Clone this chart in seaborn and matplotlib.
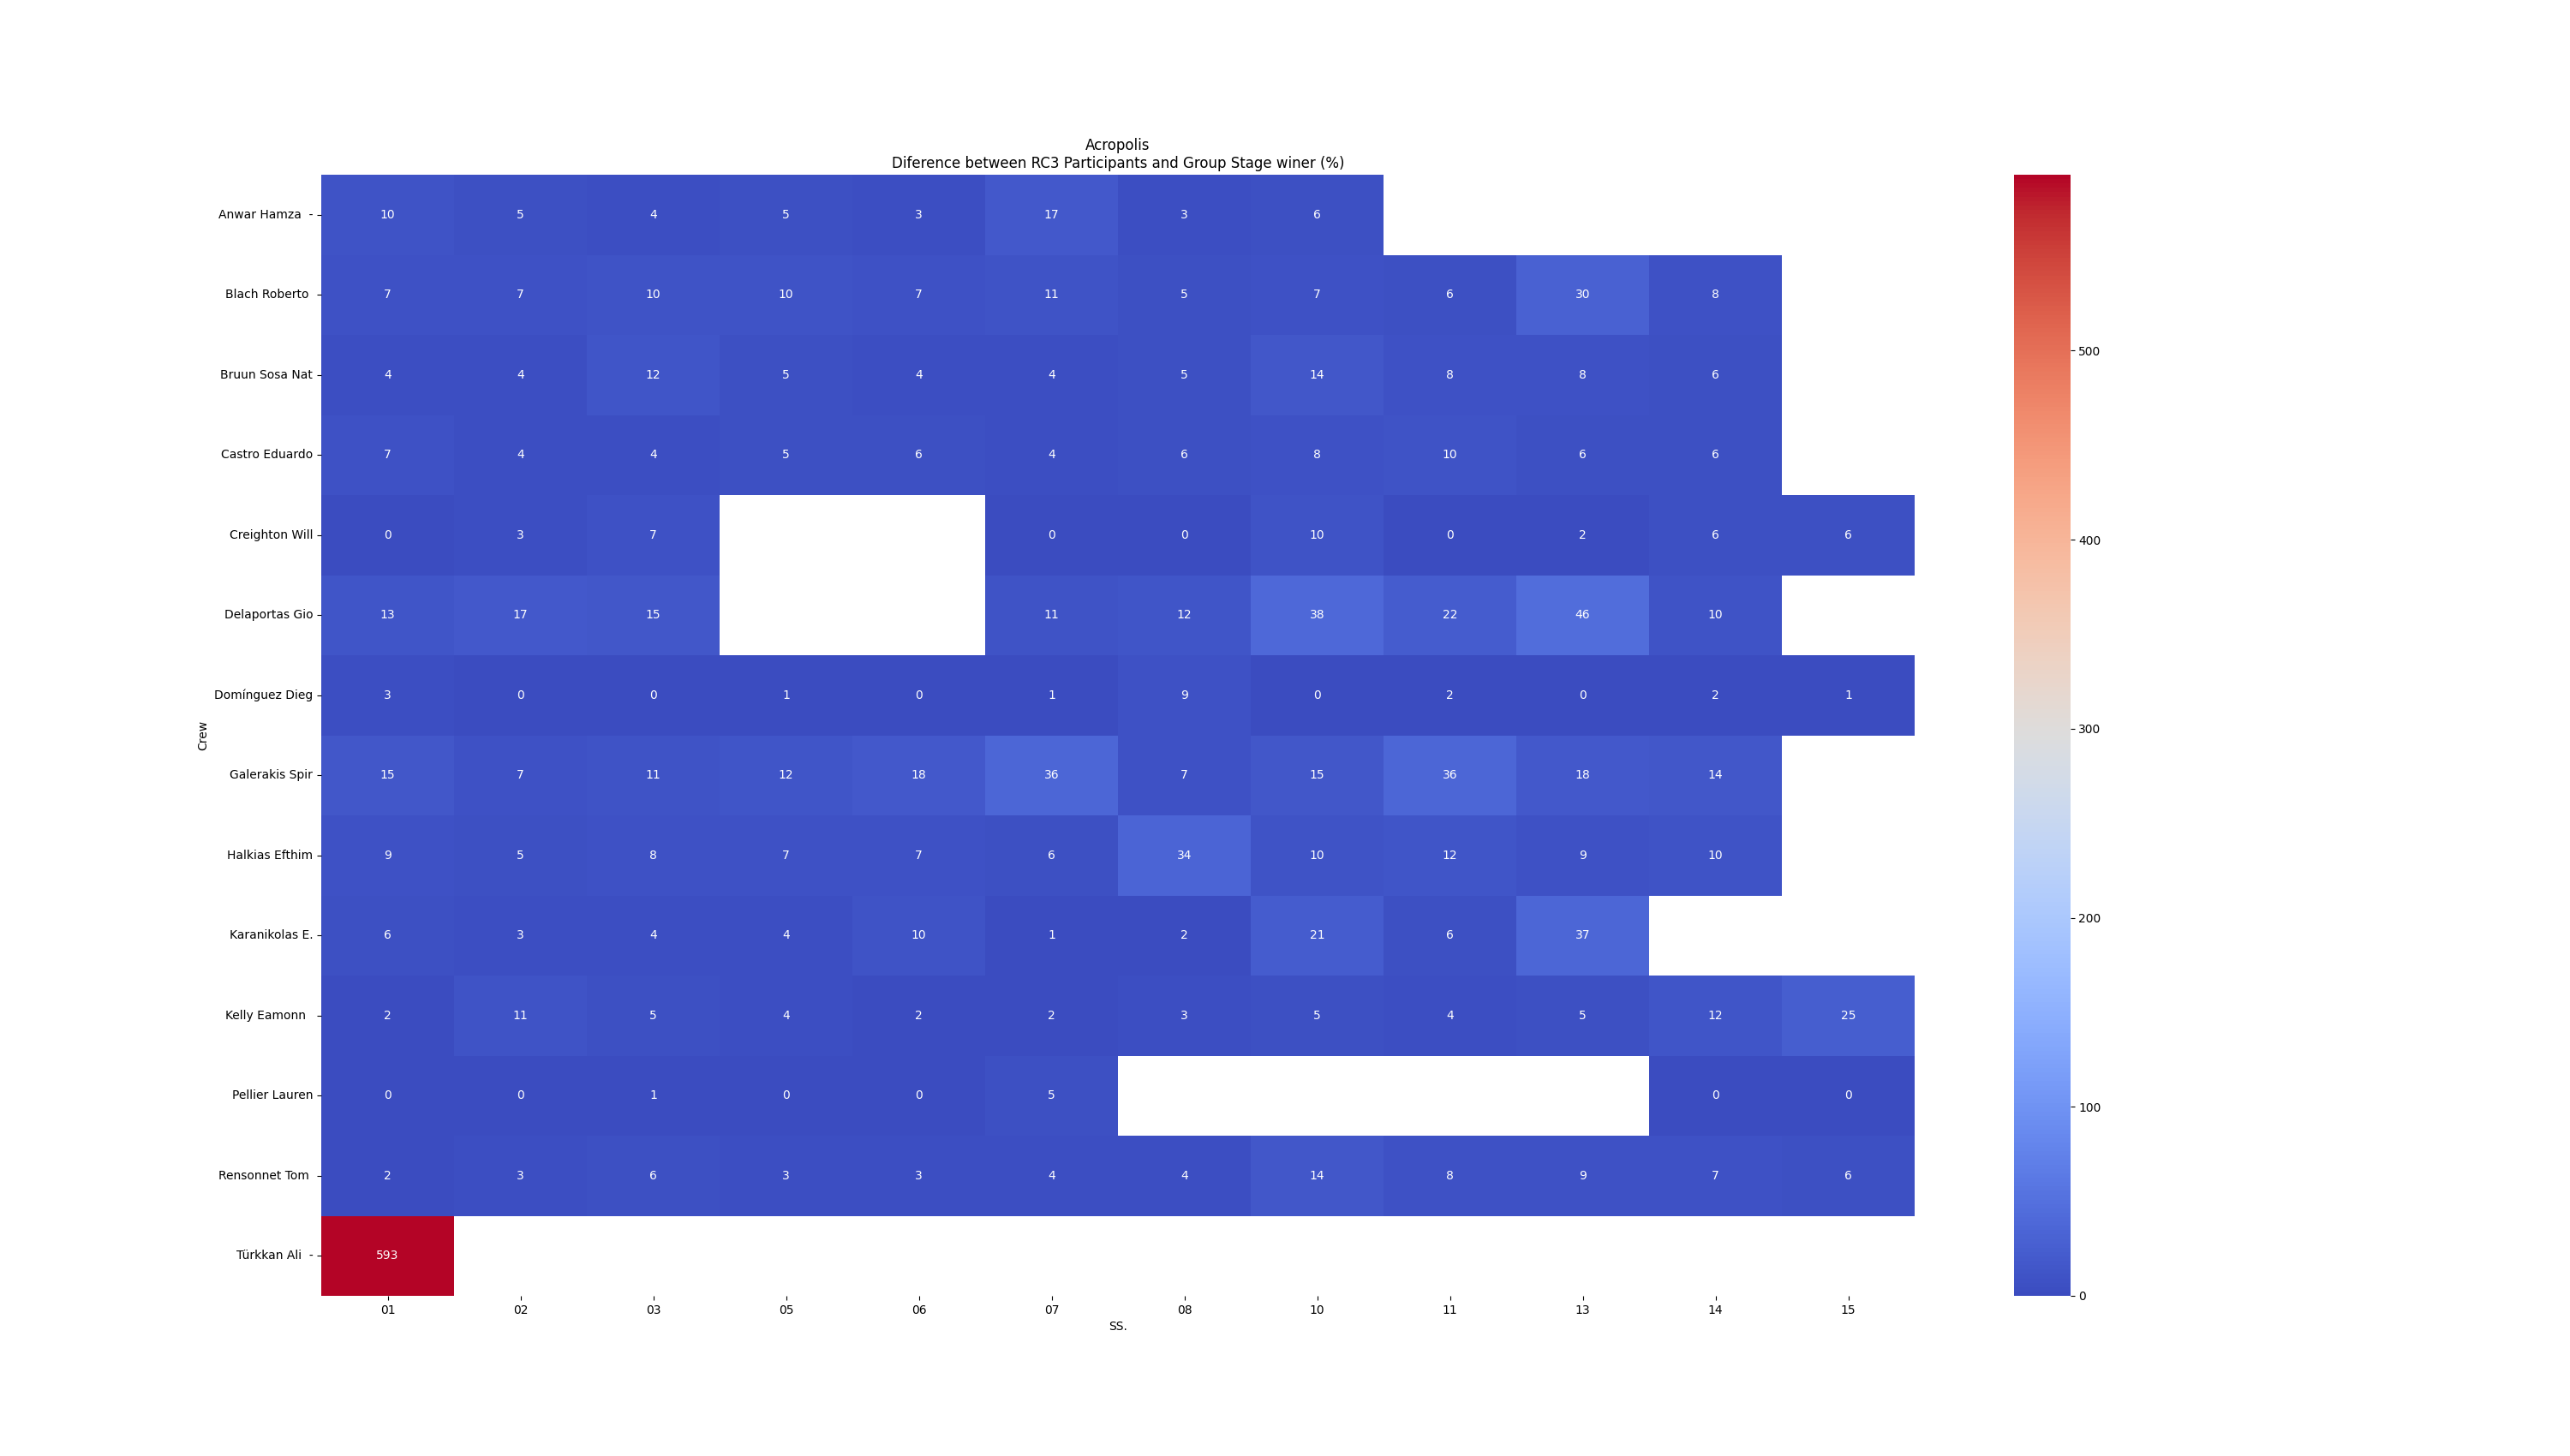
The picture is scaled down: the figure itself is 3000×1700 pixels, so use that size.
import numpy as np
import pandas as pd
import matplotlib
matplotlib.use("Agg")
import matplotlib.pyplot as plt
import seaborn as sns

stages = ['01', '02', '03', '05', '06', '07', '08', '10', '11', '13', '14', '15']

crews = ['Anwar Hamza  -', 'Blach Roberto ', 'Bruun Sosa Nat', 'Castro Eduardo',
         'Creighton Will', 'Delaportas Gio', 'Domínguez Dieg', 'Galerakis Spir',
         'Halkias Efthim', 'Karanikolas E.', 'Kelly Eamonn  ', 'Pellier Lauren',
         'Rensonnet Tom ', 'Türkkan Ali  -']

nan = np.nan
anwar = [10, 5, 4, 5, 3, 17, 3, 6, nan, nan, nan, nan]
blach = [7, 7, 10, 10, 7, 11, 5, 7, 6, 30, 8, nan]
bruun = [4, 4, 12, 5, 4, 4, 5, 14, 8, 8, 6, nan]
castro = [7, 4, 4, 5, 6, 4, 6, 8, 10, 6, 6, nan]
creighton = [0, 3, 7, nan, nan, 0, 0, 10, 0, 2, 6, 6]
delaportas = [13, 17, 15, nan, nan, 11, 12, 38, 22, 46, 10, nan]
dominguez = [3, 0, 0, 1, 0, 1, 9, 0, 2, 0, 2, 1]
galerakis = [15, 7, 11, 12, 18, 36, 7, 15, 36, 18, 14, nan]
halkias = [9, 5, 8, 7, 7, 6, 34, 10, 12, 9, 10, nan]
karanikolas = [6, 3, 4, 4, 10, 1, 2, 21, 6, 37, nan, nan]
kelly = [2, 11, 5, 4, 2, 2, 3, 5, 4, 5, 12, 25]
pellier = [0, 0, 1, 0, 0, 5, nan, nan, nan, nan, 0, 0]
rensonnet = [2, 3, 6, 3, 3, 4, 4, 14, 8, 9, 7, 6]
turkkan = [593, nan, nan, nan, nan, nan, nan, nan, nan, nan, nan, nan]

rows = [anwar, blach, bruun, castro, creighton, delaportas, dominguez,
        galerakis, halkias, karanikolas, kelly, pellier, rensonnet, turkkan]

df = pd.DataFrame(rows, index=crews, columns=stages)
df.index.name = 'Crew'
df.columns.name = 'SS.'

fig = plt.figure(figsize=(30, 17), dpi=100)
ax = sns.heatmap(df, cmap='coolwarm', annot=True, fmt='.0f')
ax.set_title('Acropolis\nDiference between RC3 Participants and Group Stage winer (%)')
plt.yticks(rotation=0)
plt.xticks(rotation=0)

plt.savefig('out.png')
